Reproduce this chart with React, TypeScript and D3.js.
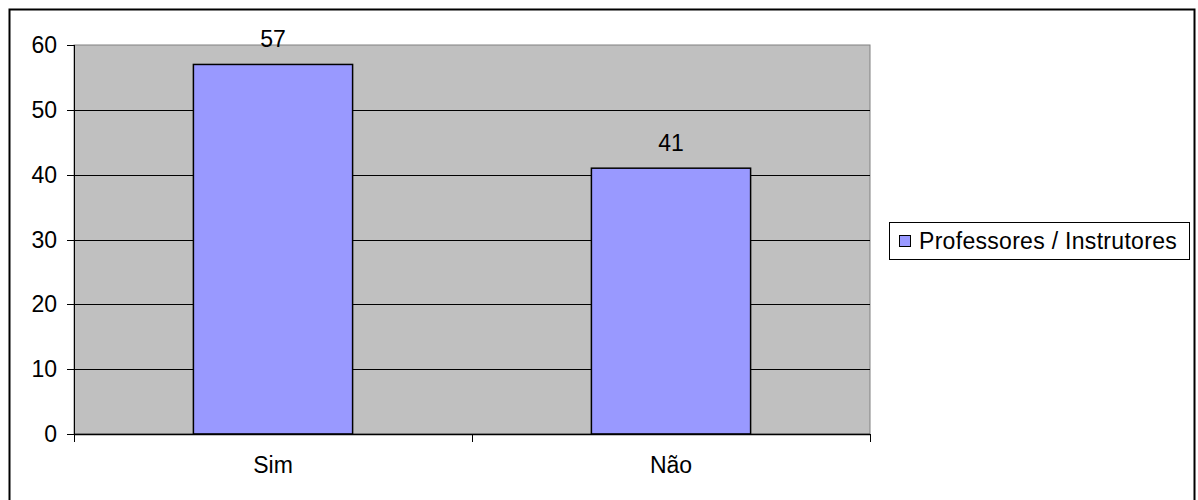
import React, { useEffect, useRef } from "react";
import * as d3 from "d3";

const categories = ["Sim", "Não"];
const values = [57, 41];
const seriesName = "Professores / Instrutores";
const yTicks = [0, 10, 20, 30, 40, 50, 60];

export default function App() {
  const ref = useRef<SVGSVGElement>(null);
  useEffect(() => {
    const svg = d3.select(ref.current);
    svg.selectAll("*").remove();
    const W = 1198, H = 500;
    const plot = { left: 74, right: 870, top: 45, bottom: 434 };
    const font = "'Liberation Sans', Arial, sans-serif";
    const fs = 23;

    svg.append("rect").attr("x", 0).attr("y", 0).attr("width", W).attr("height", H).attr("fill", "#fff");
    // outer frame
    svg.append("rect").attr("x", 9.5).attr("y", 9.5).attr("width", 1185).attr("height", 500)
      .attr("fill", "none").attr("stroke", "#000").attr("stroke-width", 2);

    const x = d3.scaleBand<string>().domain(categories).range([plot.left, plot.right]).padding(0);
    const y = d3.scaleLinear().domain([0, 60]).range([plot.bottom, plot.top]);

    svg.append("rect").attr("x", plot.left).attr("y", plot.top)
      .attr("width", plot.right - plot.left).attr("height", plot.bottom - plot.top)
      .attr("fill", "#C0C0C0").attr("stroke", "#808080").attr("stroke-width", 1);

    // gridlines
    svg.append("g").selectAll("line").data(yTicks.filter(t => t > 0 && t < 60)).join("line")
      .attr("x1", plot.left).attr("x2", plot.right)
      .attr("y1", d => Math.round(y(d)) + 0.5).attr("y2", d => Math.round(y(d)) + 0.5)
      .attr("stroke", "#000").attr("stroke-width", 1);

    // bars
    const barFrac = 0.4;
    svg.append("g").selectAll("rect").data(values).join("rect")
      .attr("x", (d, i) => (x(categories[i]) as number) + x.bandwidth() * (1 - barFrac) / 2)
      .attr("y", d => y(d))
      .attr("width", x.bandwidth() * barFrac)
      .attr("height", d => y(0) - y(d))
      .attr("fill", "#9999FF").attr("stroke", "#000").attr("stroke-width", 1.5);

    // data labels
    svg.append("g").selectAll("text").data(values).join("text")
      .attr("x", (d, i) => (x(categories[i]) as number) + x.bandwidth() / 2)
      .attr("y", d => y(d) - 17)
      .attr("text-anchor", "middle").attr("font-family", font).attr("font-size", fs)
      .attr("fill", "#000").text(d => String(d));

    // y axis
    const ya = svg.append("g");
    ya.append("line").attr("x1", plot.left + 0.5).attr("x2", plot.left + 0.5)
      .attr("y1", plot.top).attr("y2", plot.bottom + 8).attr("stroke", "#000");
    ya.selectAll("line.t").data(yTicks).join("line").attr("class", "t")
      .attr("x1", plot.left - 7).attr("x2", plot.left)
      .attr("y1", d => Math.round(y(d)) + 0.5).attr("y2", d => Math.round(y(d)) + 0.5)
      .attr("stroke", "#000");
    ya.selectAll("text").data(yTicks).join("text")
      .attr("x", plot.left - 17).attr("y", d => y(d))
      .attr("dy", "0.35em").attr("text-anchor", "end")
      .attr("font-family", font).attr("font-size", fs).attr("fill", "#000")
      .text(d => String(d));

    // x axis
    const xa = svg.append("g");
    xa.append("line").attr("x1", plot.left).attr("x2", plot.right)
      .attr("y1", plot.bottom + 0.5).attr("y2", plot.bottom + 0.5).attr("stroke", "#000").attr("stroke-width", 1.5);
    const bounds = [...categories.map(c => x(c) as number), plot.right];
    xa.selectAll("line.t").data(bounds).join("line").attr("class", "t")
      .attr("x1", d => Math.round(d) + 0.5).attr("x2", d => Math.round(d) + 0.5)
      .attr("y1", plot.bottom).attr("y2", plot.bottom + 8).attr("stroke", "#000");
    xa.selectAll("text").data(categories).join("text")
      .attr("x", d => (x(d) as number) + x.bandwidth() / 2).attr("y", plot.bottom + 39)
      .attr("text-anchor", "middle").attr("font-family", font).attr("font-size", fs)
      .attr("fill", "#000").text(d => d);

    // legend
    const lg = svg.append("g");
    lg.append("rect").attr("x", 889.5).attr("y", 222.5).attr("width", 300).attr("height", 37)
      .attr("fill", "#fff").attr("stroke", "#000");
    lg.append("rect").attr("x", 899.5).attr("y", 235.5).attr("width", 11).attr("height", 11)
      .attr("fill", "#9999FF").attr("stroke", "#000");
    lg.append("text").attr("x", 919).attr("y", 249).attr("letter-spacing", 0.3)
      .attr("font-family", font).attr("font-size", fs).attr("fill", "#000").text(seriesName);
  }, []);
  return (
    <svg ref={ref} width={1198} height={500}
      style={{ position: "absolute", left: 0, top: 0, display: "block" }} />
  );
}
